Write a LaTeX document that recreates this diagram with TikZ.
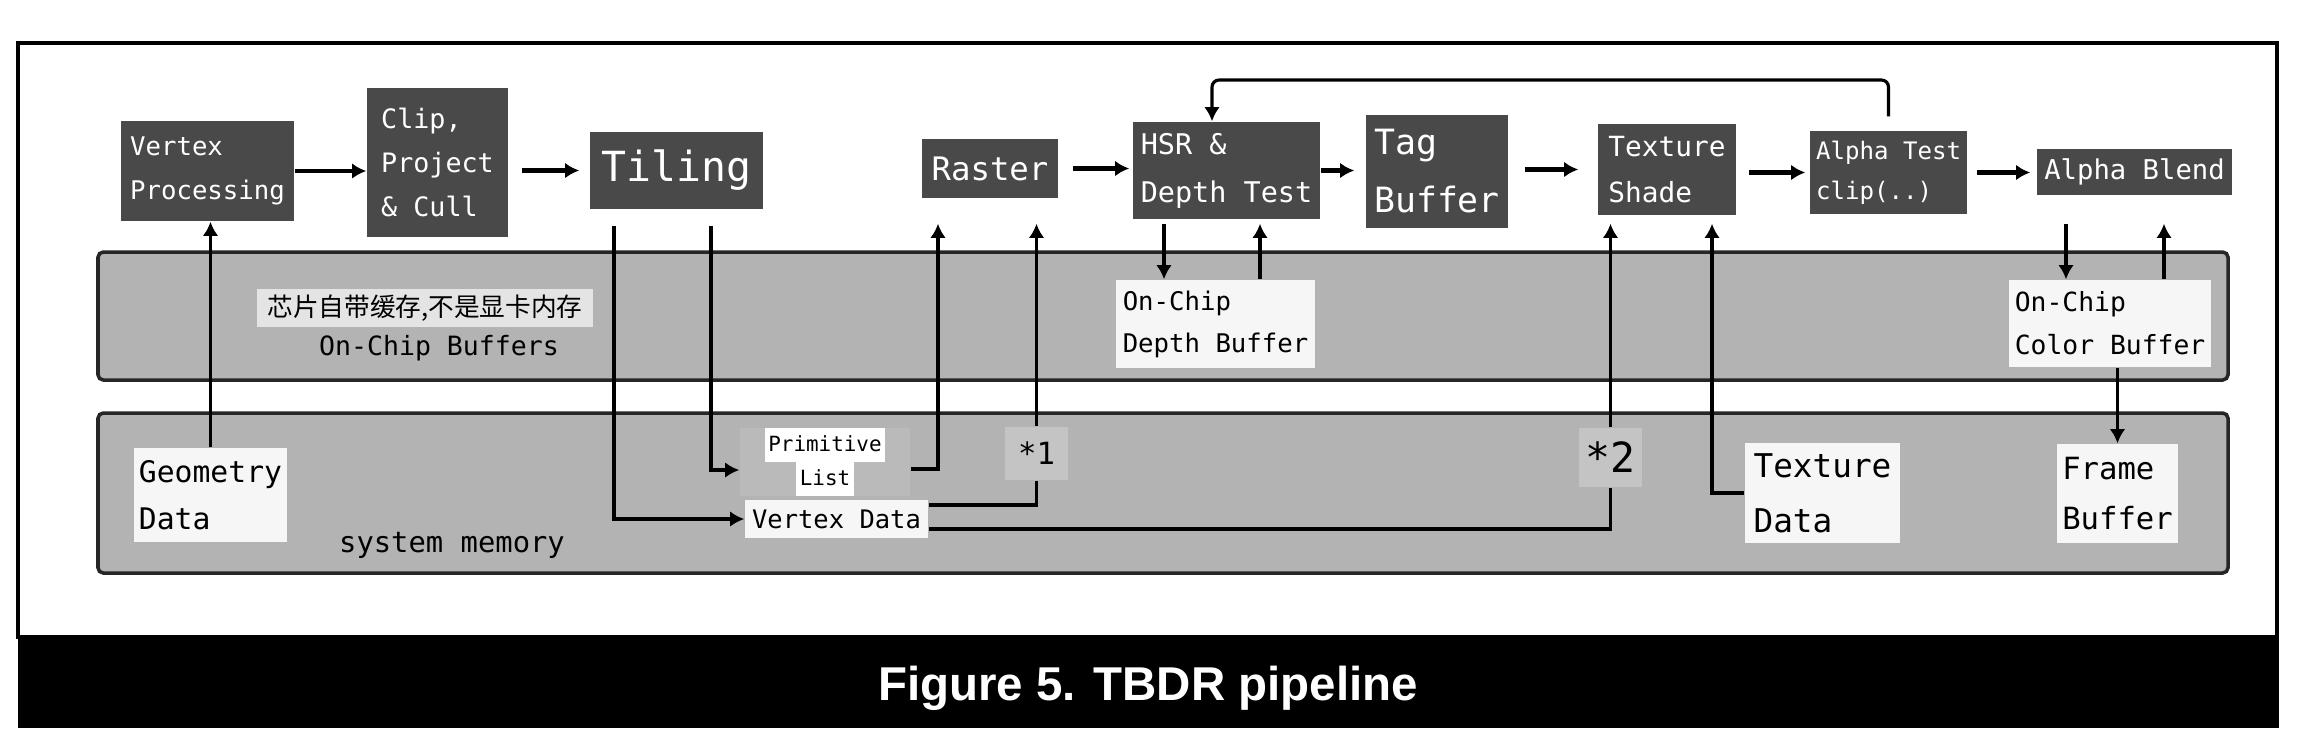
\documentclass[tikz,border=0pt]{standalone}
\usepackage{fontspec}
\setmonofont{DejaVu Sans Mono}
\newfontfamily\cjk{Noto Sans CJK SC}
\newfontfamily\capfont{Liberation Sans}
\usetikzlibrary{arrows.meta}
\definecolor{boxdark}{HTML}{494949}
\definecolor{bandgray}{HTML}{B3B3B3}
\definecolor{paper}{HTML}{F6F6F6}
\definecolor{notegray}{HTML}{E4E4E4}
\definecolor{stargray}{HTML}{C4C4C4}
\newcommand\monosize[2]{\ttfamily\fontsize{#1}{#2}\selectfont}
\newcommand\hl[1]{{\setlength\fboxsep{0pt}\colorbox{white}{\kern1pt\strut#1\kern1pt}}}
\tikzset{
  darkbox/.style={fill=boxdark, text=white, inner sep=0pt, align=left},
  litebox/.style={fill=paper, text=black, inner sep=0pt, align=left},
  band/.style={fill=bandgray, draw=black!85, line width=1pt, rounded corners=1.5pt},
  flow/.style={->, line width=1.2pt},
  wire/.style={line width=0.9pt},
  link/.style={wire, ->},
}
\begin{document}
\begin{tikzpicture}[x=0.01cm,y=-0.01cm,>={Latex[length=4pt,width=4.4pt]}]
\useasboundingbox (0,0) rectangle (2300,735);
% frame and caption
\draw[line width=1.2pt] (18,43) rectangle (2277,637);
\fill (18,636) rectangle (2279,728);
\node[anchor=base, text=white, font=\capfont\bfseries\fontsize{13.5}{16}\selectfont] (caption) at (1148,700) {Figure 5. TBDR pipeline};
% the two memory bands
\draw[band] (98,252) rectangle (2228,380);
\draw[band] (98,413) rectangle (2228,573);
\node[fill=notegray, inner sep=0pt, minimum width=3.36cm, minimum height=0.38cm, font=\cjk\fontsize{7.3}{9}\selectfont] (cnnote) at (425,308) {芯片自带缓存,不是显卡内存};
\node[font=\monosize{7.55}{9}] (chiplabel) at (439,348) {On-Chip Buffers};
\node[font=\monosize{8.2}{10}] (memlabel) at (452,545) {system memory};
% pipeline stages
\node[darkbox, minimum width=1.73cm, minimum height=1cm, font=\monosize{7.3}{12.5}] (vp) at (207.5,171) {Vertex\\Processing};
\node[darkbox, minimum width=1.41cm, minimum height=1.49cm, font=\monosize{7.6}{12.4}] (clip) at (437.5,162.5) {Clip,\\Project\\\& Cull};
\node[darkbox, minimum width=1.73cm, minimum height=0.77cm, font=\monosize{11.8}{14}] (tiling) at (676.5,170.5) {Tiling};
\node[darkbox, minimum width=1.36cm, minimum height=0.59cm, font=\monosize{9.2}{11}] (raster) at (990,168.5) {Raster};
\node[darkbox, minimum width=1.87cm, minimum height=0.97cm, font=\monosize{8.1}{13.7}] (hsr) at (1226.5,170.5) {HSR \&\\Depth Test};
\node[darkbox, minimum width=1.42cm, minimum height=1.13cm, font=\monosize{9.9}{16.5}] (tag) at (1437,171.5) {Tag\\Buffer};
\node[darkbox, minimum width=1.38cm, minimum height=0.91cm, font=\monosize{7.9}{13.3}] (texshade) at (1667,169.5) {Texture\\Shade};
\node[darkbox, minimum width=1.57cm, minimum height=0.83cm, font=\monosize{6.85}{11.4}] (alphatest) at (1888.5,172.5) {Alpha Test\\clip(..)};
\node[darkbox, minimum width=1.95cm, minimum height=0.46cm, font=\monosize{7.75}{9}] (alphablend) at (2134.5,172) {Alpha Blend};
% buffers
\node[litebox, minimum width=1.99cm, minimum height=0.88cm, font=\monosize{7.3}{11.9}] (depthbuf) at (1215.5,324) {On-Chip\\Depth Buffer};
\node[litebox, minimum width=2.02cm, minimum height=0.87cm, font=\monosize{7.5}{12.3}] (colorbuf) at (2110,323.5) {On-Chip\\Color Buffer};
\node[litebox, minimum width=1.53cm, minimum height=0.94cm, font=\monosize{8.45}{13.3}] (geom) at (210.5,495) {Geometry\\Data};
\node[fill=black!27, inner sep=0pt, minimum width=1.70cm, minimum height=0.66cm, align=center, font=\monosize{5.95}{9.6}] (primlist) at (825,462) {\hl{Primitive}\\\hl{List}};
\node[litebox, minimum width=1.83cm, minimum height=0.38cm, font=\monosize{7.25}{9}] (vertdata) at (836.5,519) {Vertex Data};
\node[fill=stargray, inner sep=0pt, minimum width=0.63cm, minimum height=0.53cm, font=\monosize{8.7}{10}] (star1) at (1036.5,453.5) {*1};
\node[fill=stargray, inner sep=0pt, minimum width=0.63cm, minimum height=0.59cm, font=\monosize{11.8}{13}] (star2) at (1610.5,457.5) {*2};
\node[litebox, minimum width=1.55cm, minimum height=1cm, font=\monosize{9.3}{15.6}] (texdata) at (1822.5,493) {Texture\\Data};
\node[litebox, minimum width=1.21cm, minimum height=0.99cm, font=\monosize{8.7}{14}] (framebuf) at (2117.5,493.5) {Frame\\Buffer};
% pipeline arrows
\draw[flow] (vp.east) -- (vp.east -| clip.west);
\draw[flow, shorten <=1.3mm, shorten >=1mm] (tiling.west -| clip.east) -- (tiling.west);
\draw[flow, shorten <=1.4mm, shorten >=0.3mm] (raster.east) -- (raster.east -| hsr.west);
\draw[flow, shorten >=1.1mm] (hsr.east) -- (hsr.east -| tag.west);
\draw[flow, shorten <=1.6mm, shorten >=1.9mm] (texshade.west -| tag.east) -- (texshade.west);
\draw[flow, shorten <=1.2mm, shorten >=0.4mm] (alphatest.west -| texshade.east) -- (alphatest.west);
\draw[flow, shorten <=0.9mm, shorten >=0.6mm] (alphatest.east) -- (alphatest.east -| alphablend.west);
\coordinate (loop) at (1212,80);
\draw[link, rounded corners=2pt] ([yshift=1.4mm]alphatest.north) |- (loop) -- (loop |- hsr.north);
% memory traffic
\draw[link] (geom.north) -- (geom.north |- vp.south);
\draw[link, shorten <=1.6mm] (tiling.south -| 614,0) |- (vertdata.west);
\draw[link, shorten <=1.6mm] (tiling.south -| 711,0) |- ([yshift=-0.8mm]primlist.west);
\draw[link, shorten >=2.5mm] ([yshift=-0.7mm]primlist.east) -| (raster.south -| 938,0);
\draw[wire] ([yshift=1.4mm]vertdata.east) -| (star1.south);
\draw[link, shorten >=2.5mm] (star1.north) -- (star1.north |- raster.south);
\draw[wire] ([yshift=-1mm]vertdata.east) -| (star2.south);
\draw[link, shorten >=0.8mm] (star2.north) -- (star2.north |- texshade.south);
\draw[link, shorten >=0.8mm] (texdata.west) -| (texshade.south -| 1712,0);
\draw[link, shorten <=0.4mm] (hsr.south -| 1164,0) -- (depthbuf.north -| 1164,0);
\draw[link, shorten >=0.4mm] (depthbuf.north -| 1260,0) -- (hsr.south -| 1260,0);
\draw[link, shorten <=2.8mm] (alphablend.south -| 2066,0) -- (colorbuf.north -| 2066,0);
\draw[link, shorten >=2.8mm] (colorbuf.north -| 2164,0) -- (alphablend.south -| 2164,0);
\draw[link] (framebuf.north |- colorbuf.south) -- (framebuf.north);
\end{tikzpicture}
\end{document}
